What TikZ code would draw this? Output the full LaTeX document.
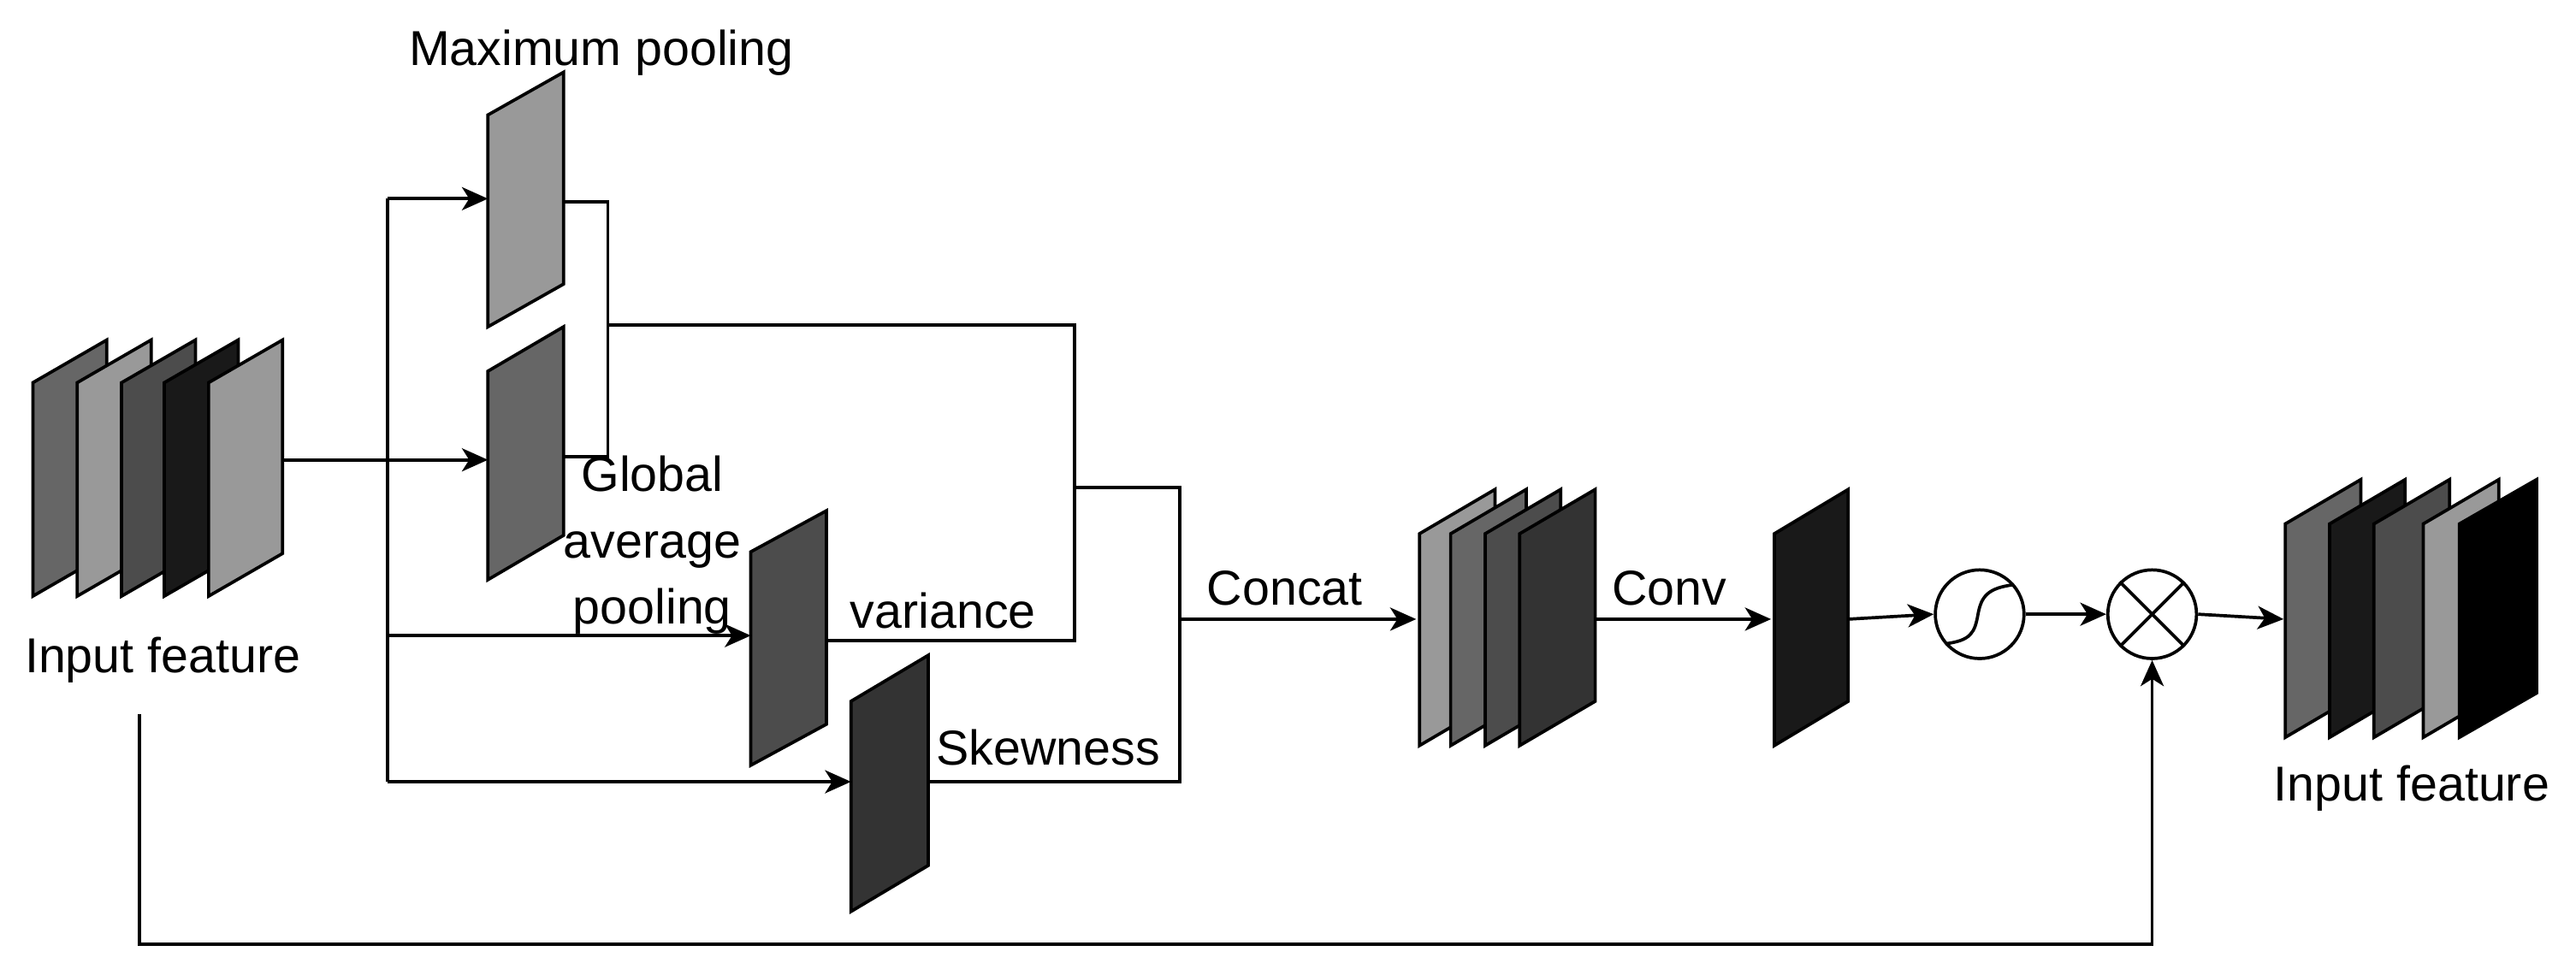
\documentclass[tikz,border=0pt]{standalone}
\usepackage{fontspec}
\setmainfont{Liberation Sans}
\usetikzlibrary{arrows.meta}
\newcommand\mysheet[6]{% x, ytl, w, h, rise, color
  \filldraw[fill=#6,draw=black,line width=1.1pt,line join=miter] (#1,#2) -- ++(#3,-#5) -- ++(0,#4) -- ++(-#3,#5) -- cycle;}
\begin{document}
\begin{tikzpicture}[x=0.02cm,y=-0.02cm,
  ln/.style={line width=1.1pt},
  ar/.style={ln,-{Stealth[length=9pt,width=8pt,inset=2.5pt]}},
  lbl/.style={font=\fontsize{17}{20}\selectfont,inner sep=0pt},
  circ/.style={circle,draw,line width=1.1pt,minimum size=1.08cm,inner sep=0pt,fill=white}]
\useasboundingbox (0,0) rectangle (1568,590);
% input stack
\mysheet{20}{233}{45}{130}{26}{black!60}
\mysheet{47}{233}{45}{130}{26}{black!40}
\mysheet{74}{233}{45}{130}{26}{black!70}
\mysheet{100}{233}{45}{130}{26}{black!90}
\mysheet{127}{233}{45}{130}{26}{black!40}
\node[lbl] (inl) at (99,402) {Input feature};
% branch sheets
\mysheet{297}{70}{46}{129}{26}{black!40}
\mysheet{297}{226}{46}{127}{27}{black!60}
\mysheet{457}{336}{46}{130}{25}{black!70}
\mysheet{518}{427}{47}{128}{28}{black!80}
\node[lbl] (mp) at (366,32) {Maximum pooling};
\node[lbl,align=center] (gap) at (397,332) {Global\\[3pt]average\\[3pt]pooling};
\node[lbl] (var) at (574,372) {variance};
\node[lbl] (skw) at (638,455) {Skewness};
% coordinates
\coordinate (in) at (173,280);
\coordinate (gapL) at (297,280);
\coordinate (b1) at (236,121);
\coordinate (b2) at (236,476);
\draw[ar] (in) -- (gapL);
\draw[ln] (b1) -- (b2);
\draw[ar] (b1) -- (297,121);
\draw[ar] (236,387) -- (457,387);
\draw[ar] (b2) -- (518,476);
\draw[ln] (343,123) -- (370,123) -- (370,278) -- (343,278);
\draw[ln] (370,198) -- (654,198) -- (654,390) -- (503,390);
\draw[ln] (654,297) -- (718,297) -- (718,476) -- (565,476);
\draw[ar] (718,377) -- (862,377);
\node[lbl] (cc) at (782,358) {Concat};
% concat stack
\mysheet{864}{325}{46}{129}{27}{black!40}
\mysheet{883}{325}{46}{129}{27}{black!60}
\mysheet{904}{325}{46}{129}{27}{black!70}
\mysheet{925}{325}{46}{129}{27}{black!80}
\draw[ar] (971,377) -- (1078,377);
\node[lbl] (cv) at (1016,358) {Conv};
\mysheet{1080}{325}{45}{129}{27}{black!90}
\node[circ] (sig) at (1205,374) {};
\draw[line width=1.1pt] (1184,392) .. controls (1200,390) and (1202,385) .. (1204,374) .. controls (1206,363) and (1210,358) .. (1226,356);
\node[circ] (mul) at (1310,374) {};
\draw[line width=1.1pt] (mul.north west) -- (mul.south east) (mul.north east) -- (mul.south west);
\draw[ar] (1125,377) -- (sig.west);
\draw[ar] (sig.east) -- (mul.west);
\draw[ar] (mul.east) -- (1390,377);
% output stack
\mysheet{1391}{319}{46}{130}{27}{black!60}
\mysheet{1418}{319}{46}{130}{27}{black!90}
\mysheet{1445}{319}{46}{130}{27}{black!70}
\mysheet{1475}{319}{46}{130}{27}{black!40}
\mysheet{1497}{319}{47}{130}{27}{black}
\node[lbl] (outl) at (1468,480) {Input feature};
% skip
\coordinate (s0) at (85,435);
\draw[ar] (s0) -- (85,575) -- (1310,575) -- (mul.south);
\end{tikzpicture}
\end{document}
